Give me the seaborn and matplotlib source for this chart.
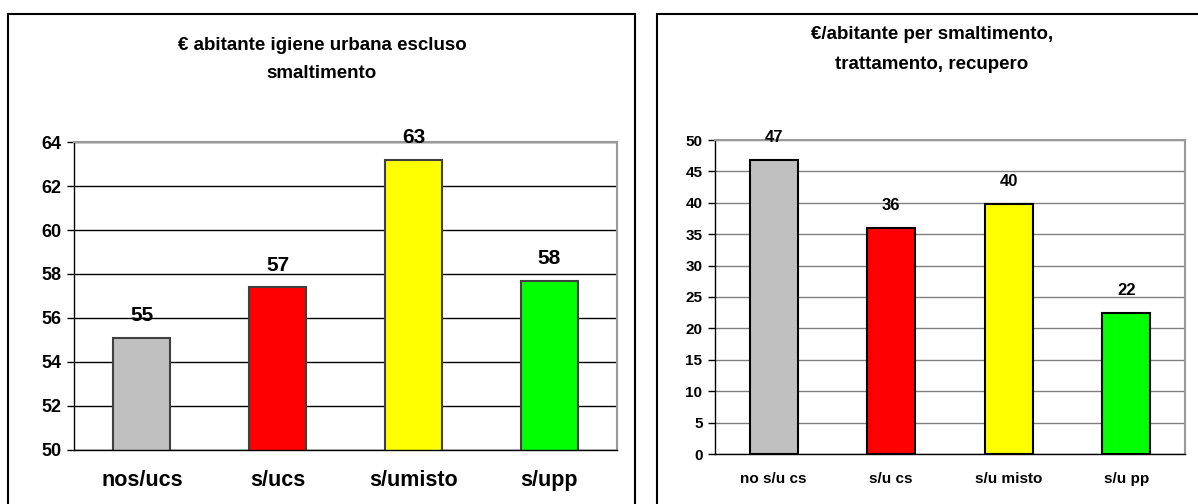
import matplotlib
matplotlib.use("Agg")
import matplotlib.pyplot as plt
import matplotlib.patches as mpatches
import seaborn as sns
import pandas as pd

# ---- data ----
left_title = "€ abitante igiene urbana escluso\nsmaltimento"
left_categories = ["nos/ucs", "s/ucs", "s/umisto", "s/upp"]
left_values = [55.1, 57.4, 63.2, 57.7]
left_yticks = [50, 52, 54, 56, 58, 60, 62, 64]

right_title = "€/abitante per smaltimento,\ntrattamento, recupero"
right_categories = ["no s/u cs", "s/u cs", "s/u misto", "s/u pp"]
right_values = [46.8, 36.0, 39.8, 22.4]
right_yticks = [0, 5, 10, 15, 20, 25, 30, 35, 40, 45, 50]

bar_colors = ["#C0C0C0", "#FF0000", "#FFFF00", "#00FF00"]

sns.set_style("white")
plt.rcParams['font.family'] = ['Liberation Sans', 'DejaVu Sans']
plt.rcParams['text.color'] = 'black'
plt.rcParams['xtick.color'] = 'black'
plt.rcParams['ytick.color'] = 'black'
plt.rcParams['axes.labelcolor'] = 'black'

W, H = 1198, 504
fig = plt.figure(figsize=(W / 100, H / 100), dpi=100)
fig.patch.set_facecolor("white")


def px_axes(x0, x1, ytop, ybot):
    return fig.add_axes([x0 / W, (H - ybot) / H, (x1 - x0) / W, (ybot - ytop) / H])


# panel borders
fig.add_artist(mpatches.Rectangle((8 / W, -0.1), (635 - 8) / W, (H - 14) / H + 0.1,
                                  transform=fig.transFigure, fill=False, ec="black",
                                  lw=1.5, clip_on=False))
fig.add_artist(mpatches.Rectangle((657 / W, -0.1), 1.2, (H - 14) / H + 0.1,
                                  transform=fig.transFigure, fill=False, ec="black",
                                  lw=1.5, clip_on=False))


def draw(ax, cats, vals, yticks, width, edge, gridc, tick_fs, xlab_fs, val_fs, val_off, xpad):
    df = pd.DataFrame({"cat": cats, "val": vals})
    sns.barplot(data=df, x="cat", y="val", hue="cat", palette=bar_colors, legend=False,
                width=width, edgecolor=edge, linewidth=1.5, ax=ax, saturation=1)
    ax.set_ylim(yticks[0], yticks[-1])
    ax.set_xlim(-0.5, len(cats) - 0.5)
    ax.set_yticks(yticks)
    ax.set_yticklabels([str(t) for t in yticks], fontsize=tick_fs, fontweight="bold")
    ax.set_xticks(range(len(cats)))
    ax.set_xticklabels(cats, fontsize=xlab_fs, fontweight="bold")
    ax.set_xticks([i - 0.5 for i in range(len(cats) + 1)], minor=True)
    ax.tick_params(axis="x", which="major", length=0, pad=xpad)
    ax.tick_params(axis="x", which="minor", length=5, width=1, color="black", direction="out")
    ax.tick_params(axis="y", which="major", length=5, width=1, color="black", direction="out", pad=4,
                   left=True)
    ax.set_xlabel("")
    ax.set_ylabel("")
    ax.set_axisbelow(True)
    ax.yaxis.grid(True, color=gridc, lw=1)
    ax.xaxis.grid(False)
    for s in ["left", "bottom"]:
        ax.spines[s].set_color("black")
        ax.spines[s].set_linewidth(1)
    for s in ["top", "right"]:
        ax.spines[s].set_color("#999999")
        ax.spines[s].set_linewidth(1.5)
    bars = [p for c in ax.containers for p in c]
    for p, v in zip(bars, vals):
        ax.annotate(f"{v:.0f}", (p.get_x() + p.get_width() / 2, v),
                    xytext=(0, val_off), textcoords="offset points",
                    ha="center", va="bottom", fontsize=val_fs, fontweight="bold",
                    color="black", annotation_clip=False)


axL = px_axes(74, 617, 142.3, 449.5)
draw(axL, left_categories, left_values, left_yticks, 0.42, "#404040", "black", 13, 15.5, 15, 9, 15)
axR = px_axes(715, 1185, 140, 454)
draw(axR, right_categories, right_values, right_yticks, 0.41, "black", "#808080", 11, 11, 12, 11, 13)

fig.text(322 / W, 1 - 59.5 / H, left_title, ha="center", va="center", fontsize=13.5,
         fontweight="bold", linespacing=1.85)
fig.text(932 / W, 1 - 49.5 / H, right_title, ha="center", va="center", fontsize=13.5,
         fontweight="bold", linespacing=2.0)

fig.savefig("out.png", dpi=100, facecolor="white")
